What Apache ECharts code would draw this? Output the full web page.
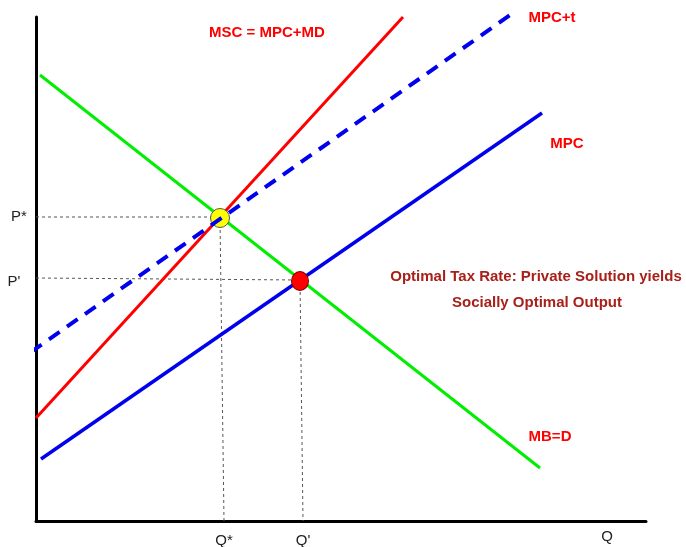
<!DOCTYPE html>
<html><head><meta charset="utf-8">
<script src="https://cdn.jsdelivr.net/npm/echarts@6/dist/echarts.min.js"></script>
<style>html,body{margin:0;padding:0;background:#fff}#c{width:686px;height:547px}</style>
</head><body><div id="c"></div>
<script>
// Curves (quantity, price) in chart units
var mbD      = [[4,446],[504,53]];
var msc      = [[0,103],[367,504]];
var mpcT     = [[-5,169],[477,508]];
var mpc      = [[5,62],[506,408]];
var optimum  = [[184,303]];   // P*, Q*
var privateEq= [[264,240]];   // P', Q'
var guideP1  = [[0,304],[184,304]];
var guideQ1  = [[184,303],[188,0]];
var guideP2  = [[0,243],[264,241]];
var guideQ2  = [[264,241],[267,0]];
var axisLabels = [
  {name:'P*', value:[-17,304]},
  {name:"P'", value:[-22,239]},
  {name:'Q*', value:[188,-20]},
  {name:"Q'", value:[267,-20]},
  {name:'Q',  value:[571,-16]}
];
var curveLabels = [
  {name:'MSC = MPC+MD', value:[231,488]},
  {name:'MPC+t', value:[516,503]},
  {name:'MPC', value:[531,377]},
  {name:'MB=D', value:[514,84]}
];
var noteLabels = [
  {name:'Optimal Tax Rate: Private Solution yields', value:[500,244]},
  {name:'Socially Optimal Output', value:[501,218]}
];

var chart = echarts.init(document.getElementById('c'));
function line(data, color, width, type, z){
  return {type:'line', data:data, symbol:'none', clip:false, silent:true, z:z||2,
    lineStyle:{color:color, width:width, type:type||'solid', cap:'butt'}};
}
function textSeries(data, color, size, weight){
  return {type:'scatter', data:data, symbolSize:0, clip:false, silent:true, z:10,
    itemStyle:{opacity:1},
    label:{show:true, position:'inside', formatter:'{b}', color:color,
      fontFamily:'Liberation Sans, Arial, sans-serif', fontSize:size, fontWeight:weight}};
}
chart.setOption({
  animation:false,
  grid:{left:36, right:40, top:17, bottom:26},
  xAxis:{type:'value', min:0, max:610, axisLine:{show:true, onZero:false, lineStyle:{color:'#000', width:3}},
    axisTick:{show:false}, axisLabel:{show:false}, splitLine:{show:false}},
  yAxis:{type:'value', min:0, max:504, axisLine:{show:true, onZero:false, lineStyle:{color:'#000', width:3}},
    axisTick:{show:false}, axisLabel:{show:false}, splitLine:{show:false}},
  series:[
    line(guideP1,'#555',1,[3,3],1),
    line(guideQ1,'#555',1,[3,3],1),
    line(guideP2,'#555',1,[3,3],1),
    line(guideQ2,'#555',1,[3,3],1),
    line(mbD,'#00ee00',3,'solid',2),
    line(msc,'#ff0000',3,'solid',2),
    line(mpc,'#0000ee',3.5,'solid',3),
    line(mpcT,'#0000ee',4,[13,9],6),
    {type:'scatter', data:optimum, symbol:'circle', symbolSize:19, z:4, silent:true,
      itemStyle:{color:'#ffff00', borderColor:'#555', borderWidth:1, opacity:1}},
    {type:'scatter', data:privateEq, symbol:'circle', symbolSize:[17,19], z:5, silent:true,
      itemStyle:{color:'#ff0000', borderColor:'#7a0000', borderWidth:1, opacity:1}},
    textSeries(axisLabels,'#222',15,'normal'),
    textSeries(curveLabels,'#ff0000',15,'bold'),
    textSeries(noteLabels,'#a8201a',15,'bold')
  ]
});
</script></body></html>
